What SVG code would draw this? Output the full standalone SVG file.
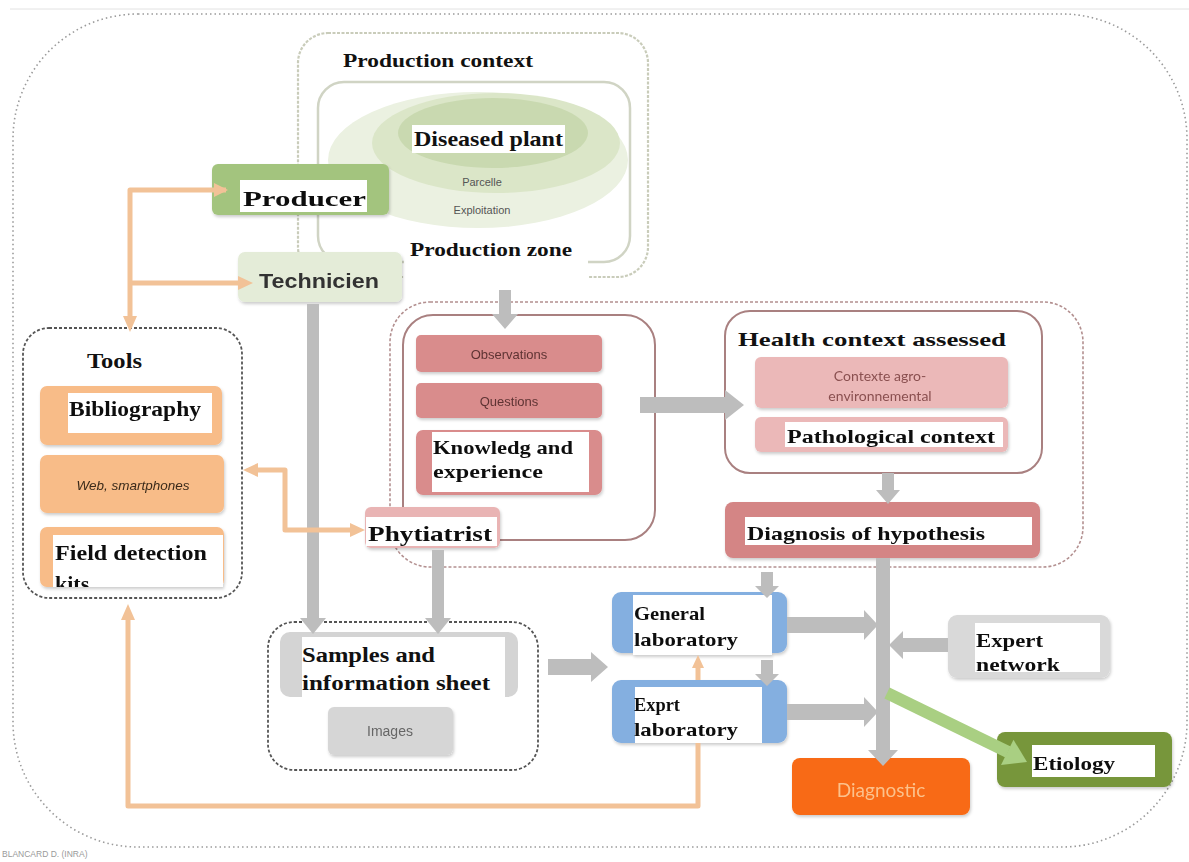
<svg xmlns="http://www.w3.org/2000/svg" width="1189" height="862" viewBox="0 0 1189 862">
  <style>
    .serif { font-family: "Liberation Serif", "Times New Roman", serif; font-weight: bold; fill: #111; }
    .sans { font-family: "Liberation Sans", Arial, sans-serif; }
    .soft { font-family: Lato, "Open Sans", "Liberation Sans", sans-serif; }
    .label { fill: #ffffff; }
    .gray { fill: #bdbdbd; }
    .orange { fill: none; stroke: #f2c297; stroke-width: 5; stroke-linejoin: round; }
    .ohead { fill: #f2c297; }
    .dotted { fill: none; stroke: #9a9a9a; stroke-width: 1.6; stroke-dasharray: 1.5 3; }
    .dashdark { fill: none; stroke: #555; stroke-width: 1.8; stroke-dasharray: 3 2; }
    .pinkline { fill: none; stroke: #a98080; stroke-width: 2; }
    .pinkdash { fill: none; stroke: #b39090; stroke-width: 1.6; stroke-dasharray: 3 2; }
  </style>
  <defs>
    <filter id="shadow" x="-10%" y="-10%" width="125%" height="135%">
      <feDropShadow dx="1" dy="2" stdDeviation="1.5" flood-color="#000" flood-opacity="0.2"/>
    </filter>
    <clipPath id="kitsClip">
      <rect x="40" y="527" width="184" height="60"/>
    </clipPath>
  </defs>

  <rect width="1189" height="862" fill="#ffffff"/>
  <line x1="10" y1="9" x2="1189" y2="9" stroke="#e2e2e2" stroke-width="1"/>

  <!-- overall frame -->
  <rect id="frame" class="dotted" x="13" y="14" width="1174" height="833" rx="125" ry="125"/>

  <!-- production context -->
  <g id="production-context">
    <rect x="298" y="33" width="350" height="244" rx="30" fill="none" stroke="#c9ccba" stroke-width="2.2" stroke-dasharray="3 1.5"/>
    <rect x="318" y="82" width="312" height="180" rx="26" fill="none" stroke="#d0d4c4" stroke-width="2.5"/>
    <ellipse cx="478" cy="160" rx="150" ry="68" fill="#ebf1e1"/>
    <ellipse cx="496" cy="143" rx="124" ry="50" fill="#dbe6c8"/>
    <ellipse cx="493" cy="133" rx="95" ry="35" fill="#c9d9b0"/>
    <text class="serif" x="343" y="67" font-size="19" textLength="190" lengthAdjust="spacingAndGlyphs">Production context</text>
    <rect class="label" x="412" y="125" width="153" height="28"/>
    <text class="serif" x="414" y="146" font-size="21" textLength="149" lengthAdjust="spacingAndGlyphs">Diseased plant</text>
    <text class="sans" x="482" y="186" font-size="11" fill="#555" text-anchor="middle">Parcelle</text>
    <text class="sans" x="482" y="214" font-size="11" fill="#555" text-anchor="middle">Exploitation</text>
    <rect class="label" x="404" y="236" width="184" height="46"/>
    <text class="serif" x="410" y="256" font-size="19" textLength="162" lengthAdjust="spacingAndGlyphs">Production zone</text>
  </g>

  <!-- actors -->
  <g id="producer" filter="url(#shadow)">
    <rect x="212" y="164" width="177" height="51" rx="6" fill="#a3c47e"/>
    <rect class="label" x="240" y="180" width="127" height="32"/>
    <text class="serif" x="243" y="206" font-size="22" textLength="123" lengthAdjust="spacingAndGlyphs">Producer</text>
  </g>
  <g id="technicien" filter="url(#shadow)">
    <rect x="238" y="252" width="164" height="50" rx="7" fill="#e4ecd8"/>
    <text class="sans" x="259" y="288" font-size="21" font-weight="bold" fill="#333" textLength="120" lengthAdjust="spacingAndGlyphs">Technicien</text>
  </g>

  <!-- tools -->
  <g id="tools">
    <rect class="dashdark" x="23" y="328" width="219" height="270" rx="26"/>
    <text class="serif" x="87" y="368" font-size="21" textLength="55" lengthAdjust="spacingAndGlyphs">Tools</text>
  </g>
  <g id="bibliography" filter="url(#shadow)">
    <rect x="40" y="386" width="182" height="59" rx="7" fill="#f8bc88"/>
    <rect class="label" x="68" y="393" width="144" height="40"/>
    <text class="serif" x="69" y="416" font-size="20" textLength="132" lengthAdjust="spacingAndGlyphs">Bibliography</text>
  </g>
  <g id="web" filter="url(#shadow)">
    <rect x="40" y="455" width="184" height="58" rx="7" fill="#f8bc88"/>
    <text class="sans" x="133" y="490" font-size="13.5" font-style="italic" fill="#3a2a1a" text-anchor="middle">Web, smartphones</text>
  </g>
  <g id="field-kits" filter="url(#shadow)">
    <rect x="40" y="527" width="184" height="60" rx="7" fill="#f8bc88"/>
    <g clip-path="url(#kitsClip)">
      <rect class="label" x="53" y="535" width="170" height="52"/>
      <text class="serif" x="55" y="560" font-size="22" textLength="152" lengthAdjust="spacingAndGlyphs">Field detection</text>
      <text class="serif" x="55" y="591" font-size="22">kits</text>
    </g>
  </g>

  <!-- diagnosis workspace -->
  <g id="health-region">
    <rect class="pinkdash" x="390" y="302" width="693" height="265" rx="40"/>
  </g>
  <g id="observations-group">
    <rect class="pinkline" x="403" y="315" width="252" height="225" rx="30"/>
  </g>
  <g id="observations" filter="url(#shadow)">
    <rect x="416" y="335" width="186" height="37" rx="5" fill="#d98c8c"/>
    <text class="sans" x="509" y="359" font-size="13" fill="#5e3333" text-anchor="middle">Observations</text>
  </g>
  <g id="questions" filter="url(#shadow)">
    <rect x="416" y="383" width="186" height="35" rx="5" fill="#d98c8c"/>
    <text class="sans" x="509" y="406" font-size="13" fill="#5e3333" text-anchor="middle">Questions</text>
  </g>
  <g id="knowledge" filter="url(#shadow)">
    <rect x="416" y="430" width="186" height="65" rx="7" fill="#d98c8c"/>
    <rect class="label" x="432" y="432" width="157" height="60"/>
    <text class="serif" x="433" y="454" font-size="19" textLength="140" lengthAdjust="spacingAndGlyphs">Knowledg and</text>
    <text class="serif" x="433" y="478" font-size="19" textLength="110" lengthAdjust="spacingAndGlyphs">experience</text>
  </g>

  <g id="health-context">
    <rect class="pinkline" x="725" y="311" width="317" height="162" rx="25"/>
    <rect class="label" x="735" y="325" width="275" height="28"/>
    <text class="serif" x="738" y="346" font-size="19" textLength="268" lengthAdjust="spacingAndGlyphs">Health context assessed</text>
  </g>
  <g id="contexte-agro" filter="url(#shadow)">
    <rect x="755" y="357" width="253" height="51" rx="6" fill="#ebb8b8"/>
    <text class="soft" x="880" y="381" font-size="14" fill="#8a5050" text-anchor="middle">Contexte agro-</text>
    <text class="soft" x="880" y="401" font-size="14" fill="#8a5050" text-anchor="middle">environnemental</text>
  </g>
  <g id="pathological" filter="url(#shadow)">
    <rect x="755" y="417" width="253" height="35" rx="6" fill="#ebb8b8"/>
    <rect class="label" x="785" y="422" width="218" height="25"/>
    <text class="serif" x="787" y="443" font-size="19" textLength="208" lengthAdjust="spacingAndGlyphs">Pathological context</text>
  </g>
  <g id="diagnosis-hypothesis" filter="url(#shadow)">
    <rect x="725" y="502" width="315" height="56" rx="8" fill="#d48585"/>
    <rect class="label" x="745" y="517" width="287" height="28"/>
    <text class="serif" x="747" y="540" font-size="19" textLength="238" lengthAdjust="spacingAndGlyphs">Diagnosis of hypothesis</text>
  </g>
  <g id="phytiatrist" filter="url(#shadow)">
    <rect x="365" y="507" width="135" height="41" rx="6" fill="#e9b4b4"/>
    <rect class="label" x="366" y="517" width="131" height="29"/>
    <text class="serif" x="368" y="541" font-size="21" textLength="124" lengthAdjust="spacingAndGlyphs">Phytiatrist</text>
  </g>

  <!-- samples -->
  <g id="samples">
    <rect class="dashdark" x="268" y="622" width="270" height="148" rx="26"/>
    <rect x="280" y="632" width="238" height="65" rx="10" fill="#d4d4d4"/>
    <rect class="label" x="302" y="637" width="203" height="60"/>
    <text class="serif" x="302" y="662" font-size="20" textLength="133" lengthAdjust="spacingAndGlyphs">Samples and</text>
    <text class="serif" x="302" y="690" font-size="20" textLength="188" lengthAdjust="spacingAndGlyphs">information sheet</text>
  </g>
  <g id="images" filter="url(#shadow)">
    <rect x="328" y="707" width="125" height="48" rx="6" fill="#d6d6d6"/>
    <text class="sans" x="390" y="736" font-size="14" fill="#666" text-anchor="middle">Images</text>
  </g>

  <!-- laboratories -->
  <g id="general-lab" filter="url(#shadow)">
    <rect x="612" y="592" width="175" height="61" rx="9" fill="#84afe0"/>
    <rect class="label" x="633" y="595" width="139" height="60"/>
    <text class="serif" x="634" y="620" font-size="19" textLength="71" lengthAdjust="spacingAndGlyphs">General</text>
    <text class="serif" x="634" y="646" font-size="19" textLength="104" lengthAdjust="spacingAndGlyphs">laboratory</text>
  </g>
  <g id="expert-lab" filter="url(#shadow)">
    <rect x="612" y="680" width="175" height="63" rx="9" fill="#84afe0"/>
    <rect class="label" x="635" y="687" width="127" height="56"/>
    <text class="serif" x="634" y="711" font-size="19" textLength="46" lengthAdjust="spacingAndGlyphs">Exprt</text>
    <text class="serif" x="634" y="736" font-size="19" textLength="104" lengthAdjust="spacingAndGlyphs">laboratory</text>
  </g>
  <g id="expert-network" filter="url(#shadow)">
    <rect x="948" y="615" width="162" height="63" rx="9" fill="#d9d9d9"/>
    <rect class="label" x="975" y="623" width="125" height="49"/>
    <text class="serif" x="976" y="647" font-size="19" textLength="67" lengthAdjust="spacingAndGlyphs">Expert</text>
    <text class="serif" x="976" y="671" font-size="19" textLength="84" lengthAdjust="spacingAndGlyphs">network</text>
  </g>
  <g id="etiology" filter="url(#shadow)">
    <rect x="997" y="732" width="175" height="55" rx="8" fill="#77963b"/>
    <rect class="label" x="1032" y="745" width="123" height="32"/>
    <text class="serif" x="1033" y="770" font-size="19" textLength="82" lengthAdjust="spacingAndGlyphs">Etiology</text>
  </g>
  <g id="diagnostic" filter="url(#shadow)">
    <rect x="792" y="758" width="178" height="57" rx="8" fill="#f86a12"/>
    <text class="soft" x="881" y="797" font-size="19" fill="#fcc18c" text-anchor="middle">Diagnostic</text>
  </g>

  <!-- connectors -->
  <g id="connectors">
    <!-- grey flow arrows -->
    <polygon class="gray" points="499,290 511,290 511,314 518,314 505,329 492,314 499,314"/>
    <polygon class="gray" points="307,304 319,304 319,618 326,618 313,634 300,618 307,618"/>
    <polygon class="gray" points="432,550 444,550 444,618 451,618 438,634 425,618 432,618"/>
    <polygon class="gray" points="640,397 725,397 725,390 744,405 725,420 725,413 640,413"/>
    <polygon class="gray" points="882,473 894,473 894,490 900,490 888,504 876,490 882,490"/>
    <polygon class="gray" points="548,659 591,659 591,652 608,667 591,682 591,675 548,675"/>
    <polygon class="gray" points="761,572 773,572 773,586 779,586 767,598 755,586 761,586"/>
    <polygon class="gray" points="761,660 773,660 773,674 779,674 767,686 755,674 761,674"/>
    <polygon class="gray" points="876,558 890,558 890,750 898,750 883,766 868,750 876,750"/>
    <polygon class="gray" points="787,617 864,617 864,610 878,625 864,640 864,633 787,633"/>
    <polygon class="gray" points="787,704 864,704 864,697 878,712 864,727 864,720 787,720"/>
    <polygon class="gray" points="948,638 903,638 903,631 889,645 903,659 903,652 948,652"/>
    <!-- etiology branch -->
    <line x1="887" y1="693" x2="1008" y2="752" stroke="#a9cf82" stroke-width="12"/>
    <polygon points="1027,762 1001,765 1013.5,739.7" fill="#a9cf82"/>

    <!-- orange links -->
    <path class="orange" d="M226,190 H130 V318"/>
    <polygon class="ohead" points="123,316 137,316 130,332"/>
    <polygon class="ohead" points="214,183 214,197 228,190"/>
    <path class="orange" d="M130,283 H240"/>
    <polygon class="ohead" points="238,276 238,290 253,283"/>
    <path class="orange" d="M256,470 H285 V530 H352"/>
    <polygon class="ohead" points="258,463 258,477 243,470"/>
    <polygon class="ohead" points="350,523 350,537 365,530"/>
    <path class="orange" d="M698,743 V806 H128 V618"/>
    <polygon class="ohead" points="121,620 135,620 128,604"/>
    <path class="orange" d="M698,680 V667"/>
    <polygon class="ohead" points="692,668 704,668 698,655"/>
  </g>

  <text id="credit" class="sans" x="2" y="857" font-size="8.5" fill="#9a9a9a">BLANCARD D. (INRA)</text>
</svg>
